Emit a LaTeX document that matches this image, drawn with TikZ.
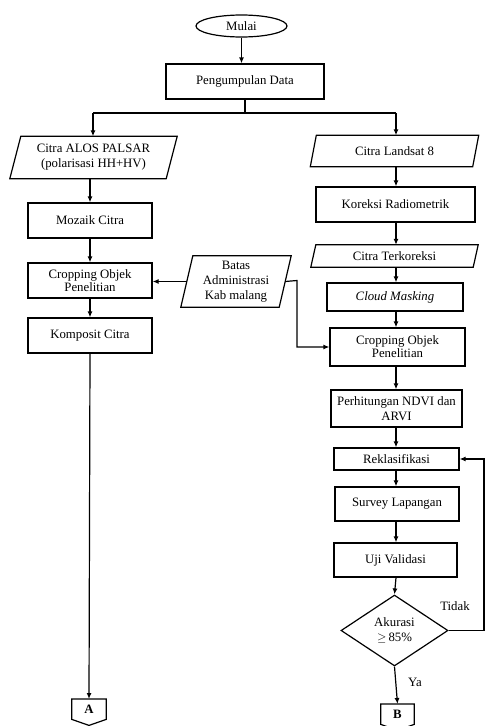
\documentclass[tikz,border=0pt]{standalone}
\usepackage{fontspec}
\setmainfont{Liberation Serif}
\usetikzlibrary{shapes.geometric,arrows.meta}
\begin{document}
\begin{tikzpicture}[x=1pt,y=-1pt,
  every node/.style={font=\fontsize{12.8}{15}\selectfont, align=center},
  line/.style={line width=1.2pt},
  arr/.style={line width=1.2pt,-{Latex[length=6pt,width=5pt]}},
  box/.style={draw,line width=1.2pt,inner sep=1pt},
  para/.style={inner sep=0pt},
  tight/.style={font=\fontsize{12.8}{13}\selectfont}]
\useasboundingbox (0,0) rectangle (485,726);

% top
\node[draw,ellipse,line width=1.2pt,minimum width=91,minimum height=22,inner sep=0pt] (mulai) at (241.5,26) {Mulai};
\node[box,minimum width=158,minimum height=35] (pd) at (245,81.5) {Pengumpulan Data};

% left column
\node[para,minimum width=156,minimum height=42] (alos) at (93.5,157.5) {Citra ALOS PALSAR\\(polarisasi HH+HV)};
\node[box,minimum width=124,minimum height=35] (mozaik) at (90,220.5) {Mozaik Citra};
\node[box,tight,minimum width=124,minimum height=35] (cropL) at (90,280.5) {Cropping Objek\\Penelitian};
\node[box,minimum width=124,minimum height=35] (komp) at (90,335.5) {Komposit Citra};
\node[minimum width=34,minimum height=20,inner sep=0pt,anchor=north,font=\fontsize{12.8}{15}\selectfont\bfseries] (A) at (89,699) {A};

% middle
\node[para,minimum width=98,minimum height=51] (batas) at (236,281.5) {Batas\\Administrasi\\Kab malang};

% right column
\node[para,minimum width=162,minimum height=31] (landsat) at (394.5,151) {Citra Landsat 8};
\node[box,minimum width=159,minimum height=35] (koreksi) at (395.5,204.5) {Koreksi Radiometrik};
\node[para,minimum width=162,minimum height=22] (terkor) at (394.5,256) {Citra Terkoreksi};
\node[box,minimum width=136,minimum height=28] (cloud) at (395,297) {\itshape Cloud Masking};
\node[box,tight,minimum width=135,minimum height=38] (cropR) at (397.5,347) {Cropping Objek\\Penelitian};
\node[box,minimum width=131,minimum height=37,inner sep=0pt] (perh) at (396.5,408.5) {Perhitungan NDVI dan\\ARVI};
\node[box,minimum width=125,minimum height=22,inner sep=0pt] (rekl) at (396.5,459) {Reklasifikasi};
\node[box,minimum width=124,minimum height=34] (survey) at (397,504) {Survey Lapangan};
\node[box,minimum width=123,minimum height=34] (uji) at (395.5,560) {Uji Validasi};
\node[draw,diamond,line width=1.2pt,minimum width=107,minimum height=71,inner sep=0pt,aspect=1.5] (akur) at (394.5,630.5) {Akurasi\\$\geq$\,85\%};
\node[minimum width=33,minimum height=20,inner sep=0pt,anchor=north,font=\fontsize{12.8}{15}\selectfont\bfseries] (B) at (397.5,704) {B};

% labels
\node (tidak) at (455,606) {Tidak};
\node (ya) at (415,682) {Ya};

% parallelograms
\foreach \n/\s in {alos/11,landsat/6,terkor/5,batas/12}{
  \draw[line] ([xshift=\s/2]\n.north west) -- ([xshift=\s/2]\n.north east)
    -- ([xshift=-\s/2]\n.south east) -- ([xshift=-\s/2]\n.south west) -- cycle;
}
% off-page connectors
\draw[line] (A.north west) -- (A.north east) -- (A.south east) -- ([yshift=-6pt]A.south) -- (A.south west) -- cycle;
\draw[line] (B.north west) -- (B.north east) -- (B.south east) -- ([yshift=-6pt]B.south) -- (B.south west) -- cycle;

% connectors
\coordinate (split) at (245,113);
\coordinate (sl) at (93,113);
\coordinate (sr) at (396,113);
\draw[arr] (mulai.south) -- (mulai.south |- pd.north);
\draw[line] (pd.south) -- (split);
\draw[line] (sl) -- (sr);
\draw[arr] (sl) -- (sl |- alos.north);
\draw[arr] (sr) -- (sr |- landsat.north);

\draw[arr] (mozaik.north |- alos.south) -- (mozaik.north);
\draw[arr] (mozaik.south) -- (cropL.north);
\draw[arr] (cropL.south) -- (komp.north);
\draw[arr] (komp.south) -- (A.north);

\draw[arr] (batas.west) -- (batas.west -| cropL.east);
\coordinate (bk) at (297,280.5);
\draw[arr] (batas.east) -- (bk) |- (cropR.west);

\draw[arr] (sr |- landsat.south) -- (sr |- koreksi.north);
\draw[arr] (sr |- koreksi.south) -- (sr |- terkor.north);
\draw[arr] (sr |- terkor.south) -- (sr |- cloud.north);
\draw[arr] (sr |- cloud.south) -- (sr |- cropR.north);
\draw[arr] (sr |- cropR.south) -- (sr |- perh.north);
\draw[arr] (sr |- perh.south) -- (sr |- rekl.north);
\draw[arr] (sr |- rekl.south) -- (sr |- survey.north);
\draw[arr] (sr |- survey.south) -- (sr |- uji.north);
\draw[arr] (sr |- uji.south) -- (akur.north);
\draw[arr] (akur.south) -- (B.north);

\coordinate (rt) at (484,630.5);
\draw[arr] (akur.east) -- (rt) |- (rekl.east);
\end{tikzpicture}
\end{document}
